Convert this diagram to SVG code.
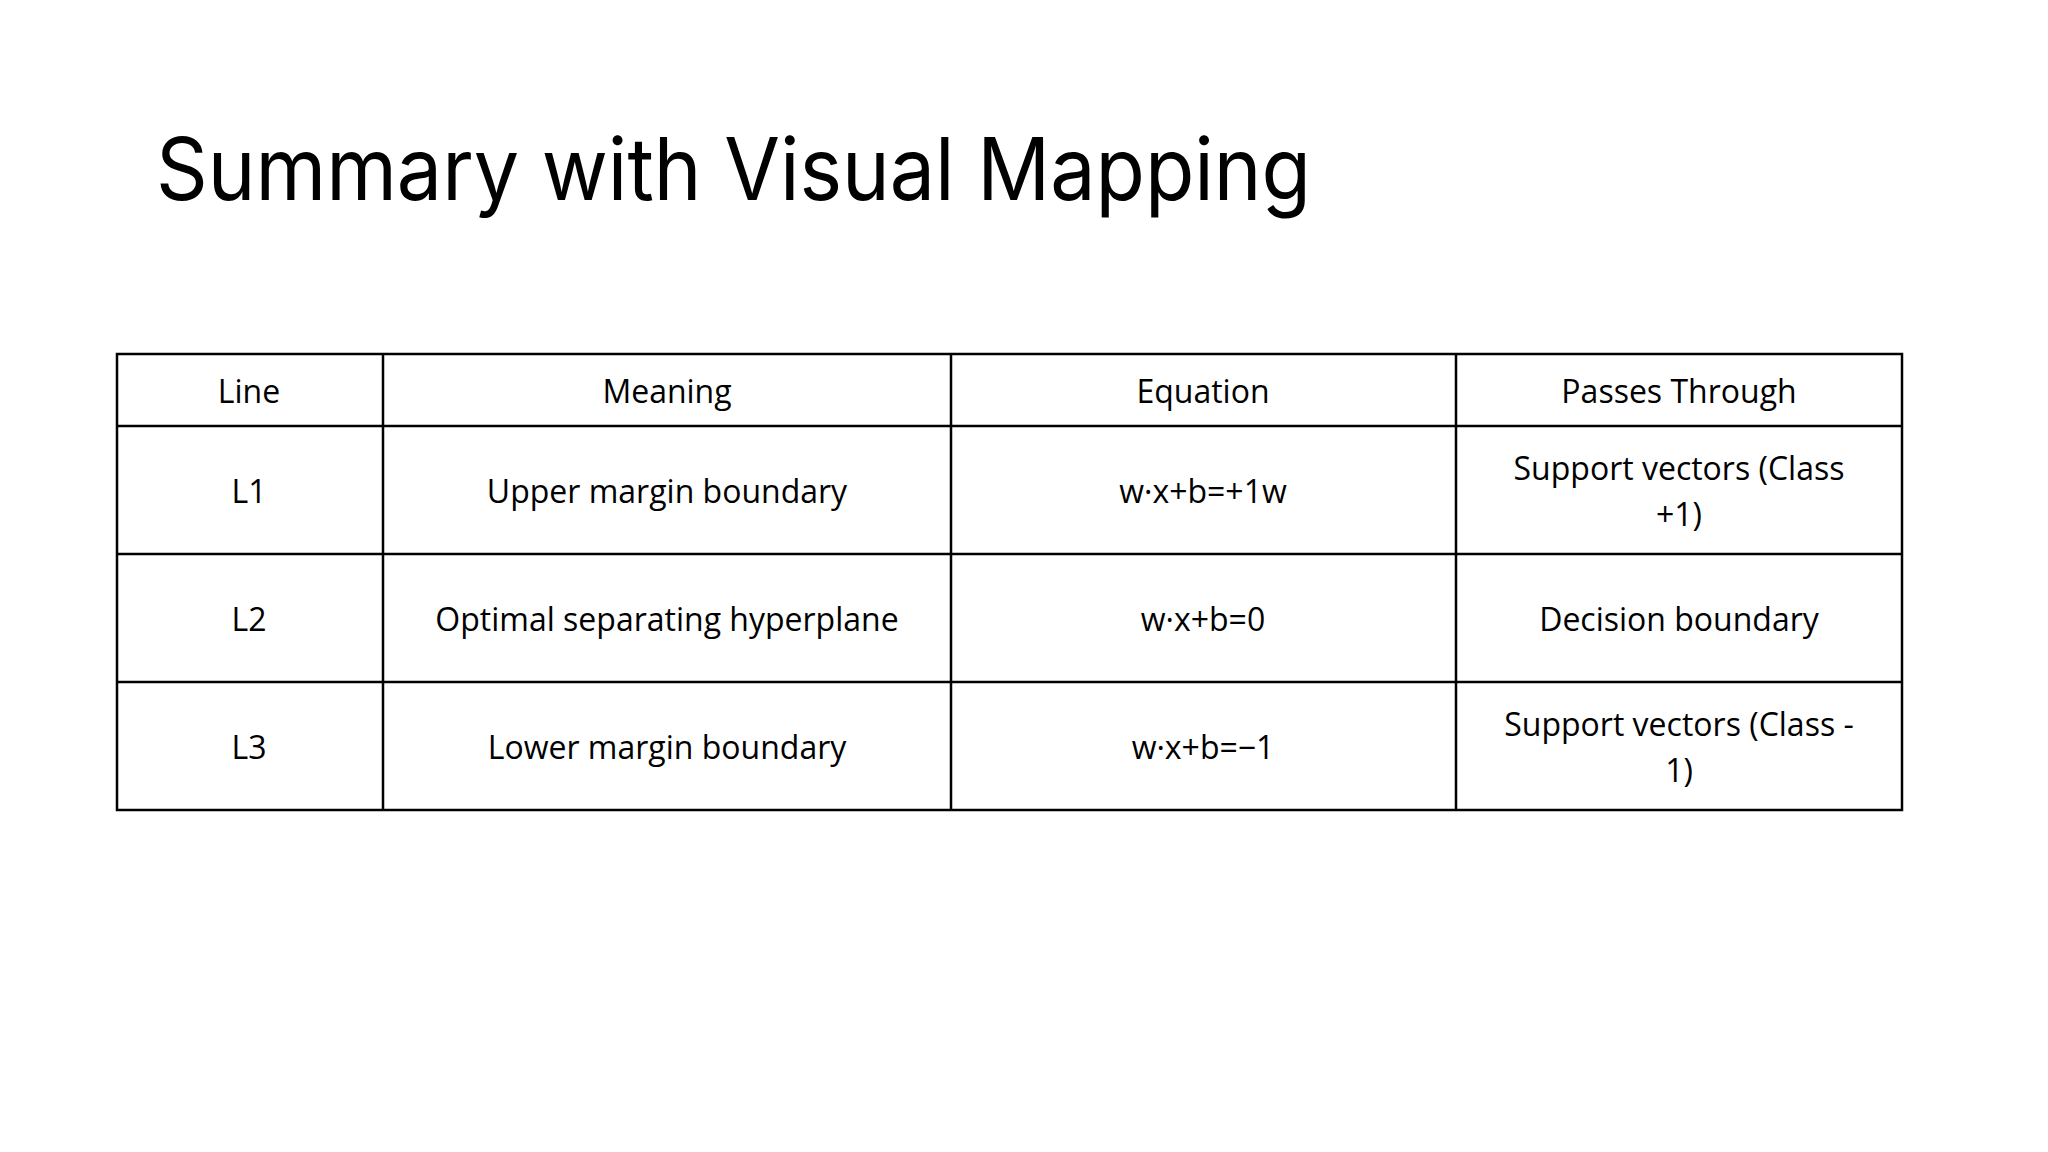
<svg xmlns="http://www.w3.org/2000/svg" width="2048" height="1152" viewBox="0 0 2048 1152">
<style>
.t{font-family:"Open Sans","Liberation Sans",sans-serif;font-size:32px;fill:#000;text-anchor:middle;dominant-baseline:central}
.g{stroke:#000;stroke-width:2.5;fill:none}
</style>
<rect width="2048" height="1152" fill="#fff"/>
<text x="156" y="200" font-family="Inter,'Liberation Sans',sans-serif" font-size="86" textLength="1155" lengthAdjust="spacingAndGlyphs">Summary with Visual Mapping</text>
<g id="grid" class="g">
<rect x="117" y="354" width="1785" height="456"/>
<line x1="117" y1="426" x2="1902" y2="426"/>
<line x1="117" y1="554" x2="1902" y2="554"/>
<line x1="117" y1="682" x2="1902" y2="682"/>
<line x1="383" y1="354" x2="383" y2="810"/>
<line x1="951" y1="354" x2="951" y2="810"/>
<line x1="1456" y1="354" x2="1456" y2="810"/>
</g>
<g id="header">
<text class="t" x="249" y="390">Line</text>
<text class="t" x="667" y="390">Meaning</text>
<text class="t" x="1203" y="390">Equation</text>
<text class="t" x="1679" y="390">Passes Through</text>
</g>
<g id="row1">
<text class="t" x="249" y="490">L1</text>
<text class="t" x="667" y="490">Upper margin boundary</text>
<text class="t" x="1203" y="490">w·x+b=+1w</text>
<text class="t" x="1679" y="467">Support vectors (Class</text>
<text class="t" x="1679" y="513">+1)</text>
</g>
<g id="row2">
<text class="t" x="249" y="618">L2</text>
<text class="t" x="667" y="618">Optimal separating hyperplane</text>
<text class="t" x="1203" y="618">w·x+b=0</text>
<text class="t" x="1679" y="618">Decision boundary</text>
</g>
<g id="row3">
<text class="t" x="249" y="746">L3</text>
<text class="t" x="667" y="746">Lower margin boundary</text>
<text class="t" x="1203" y="746">w·x+b=−1</text>
<text class="t" x="1679" y="723">Support vectors (Class -</text>
<text class="t" x="1679" y="769">1)</text>
</g>
</svg>
